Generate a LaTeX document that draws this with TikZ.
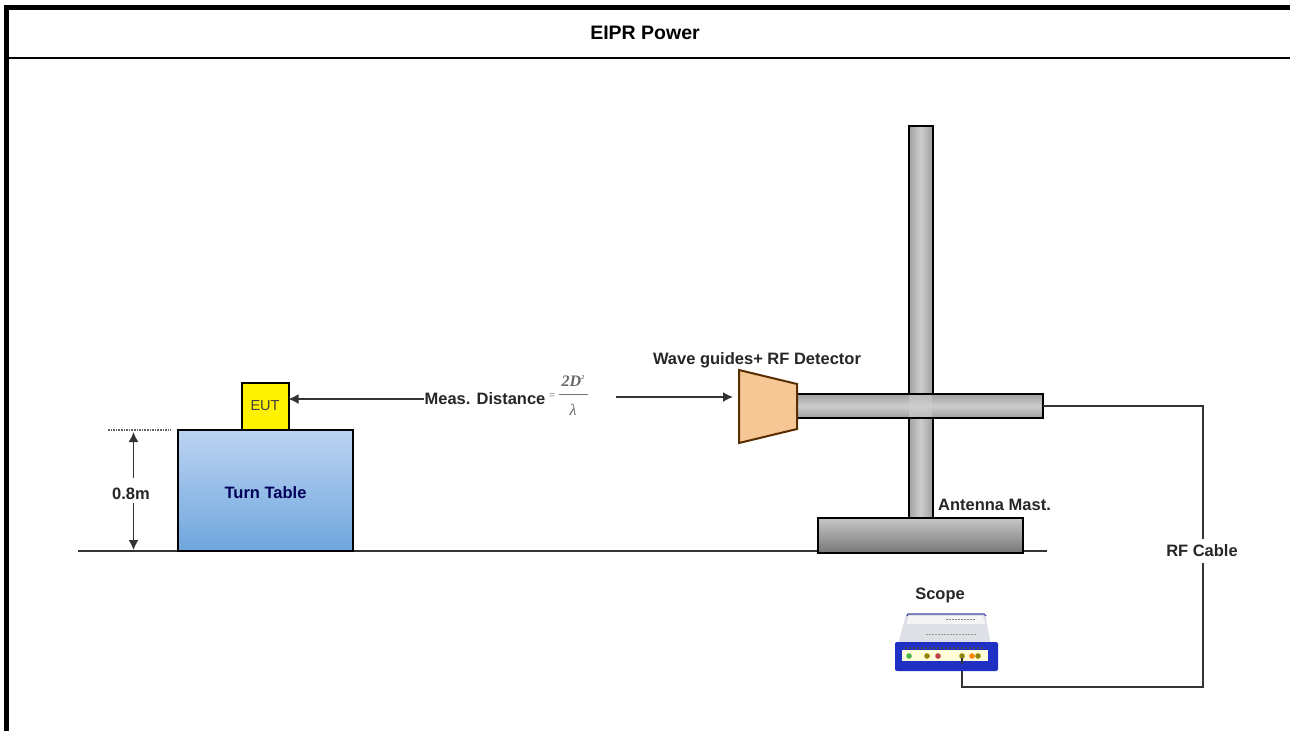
\documentclass[tikz,border=0pt]{standalone}
\usepackage{fontspec}
\setmainfont{Liberation Sans}
\newfontfamily\serifmath{Liberation Serif}
\usetikzlibrary{arrows.meta}
\definecolor{gdark}{HTML}{A0A0A0}
\definecolor{glight}{HTML}{CDCDCD}
\definecolor{scopeblue}{HTML}{1F30C4}
\definecolor{scopegrey}{HTML}{DDE1E6}
\definecolor{tabletop}{HTML}{BCD3F2}
\definecolor{tablebot}{HTML}{6FA6DD}
\definecolor{horn}{HTML}{F6C794}
\tikzset{
 x=1pt,y=-1pt,
 lbl/.style={font=\bfseries\fontsize{16.5}{18}\selectfont,text=black!85,inner sep=0pt},
 solidbox/.style={draw=black,line width=2pt,outer sep=0pt,inner sep=0pt},
 metalh/.style={solidbox,top color=gdark,bottom color=gdark,middle color=glight},
 metalv/.style={solidbox,left color=gdark,right color=gdark,middle color=glight},
 wire/.style={draw=black!80,line width=2pt},
 thin wire/.style={draw=black!80,line width=1.5pt},
 arr/.style={thin wire,-{Latex[length=10pt,width=10pt]}},
 frame/.style={draw=black,line width=5pt},
}
\begin{document}
\begin{tikzpicture}
\useasboundingbox (0,0) rectangle (1290,731);
% frame
\coordinate (fbl) at (6.5,731);
\coordinate (ftl) at (6.5,7.5);
\coordinate (ftr) at (1290,7.5);
\coordinate (hl) at (9,58);
\coordinate (hr) at (1290,58);
\draw[frame,line cap=butt] (fbl) -- (ftl) -- (ftr);
\draw[draw=black,line width=2pt] (hl) -- (hr);
\node[inner sep=0pt,font=\bfseries\fontsize{19.5}{22}\selectfont] (title) at (645,33) {EIPR Power};
% ground
\coordinate (g1) at (78,551);
\coordinate (g2) at (1047,551);
\draw[wire] (g1) -- (g2);
% turn table
\node[solidbox,minimum width=175pt,minimum height=121pt,top color=tabletop,bottom color=tablebot] (table) at (265,490.5) {};
\node[inner sep=0pt,font=\bfseries\fontsize{16.5}{18}\selectfont,text=blue!35!black] (tt) at (265.5,493) {Turn Table};
% EUT
\node[solidbox,fill=yellow,minimum width=47pt,minimum height=47pt,font=\fontsize{14.5}{16}\selectfont,text=black!75] (eut) at (265,406) {EUT};
% dotted level
\coordinate (d1) at (108,430);
\coordinate (d2) at (171,430);
\draw[black!60,line width=1.6pt,densely dotted] (d1) -- (d2);
% 0.8m
\node[lbl] (h) at (131,494) {0.8m};
\coordinate (ht) at (133.5,432);
\coordinate (hb) at (133.5,550);
\draw[arr] (h.north -| ht) ++(0,-10) -- (ht);
\draw[arr] (h.south -| hb) ++(0,3) -- (hb);
% distance
\node[lbl] (meas) at (485,399) {Meas. Distance};
\node[inner sep=0pt,text=black!50,font=\fontsize{10}{10}\selectfont] (eq) at (552,396) {=};
\coordinate (fracL) at (559,394);
\coordinate (fracR) at (588,394);
\draw[black!55,line width=.8pt] (fracL) -- (fracR);
\node[inner sep=0pt,text=black!60,font=\serifmath\bfseries\itshape\fontsize{16}{18}\selectfont] (num) at (573,381) {2D\raisebox{7pt}{\fontsize{6}{7}\selectfont 2}};
\node[inner sep=0pt,text=black!60,font=\serifmath\itshape\fontsize{16}{18}\selectfont] (den) at (573,410) {λ};
\coordinate (a1) at (616,397);
\draw[arr] (meas.west) -- (meas.west -| eut.east);
% horn
\coordinate (h1) at (739,370);
\coordinate (h2) at (797,384);
\coordinate (h3) at (797,429);
\coordinate (h4) at (739,443);
\coordinate (hornin) at (733,397);
\draw[arr] (a1) -- (hornin);
% mast
\node[metalv,minimum width=24pt,minimum height=392pt] (mast) at (920.5,322) {};
\node[metalh,minimum width=246pt,minimum height=24pt] (arm) at (920,406) {};
\fill[glight,opacity=.6] (909,395) rectangle (932,417);
\node[solidbox,top color=glight!90!gdark,bottom color=gdark!75!black,minimum width=205pt,minimum height=35pt] (base) at (920,535) {};
\draw[solidbox,fill=horn,draw=black!65!orange] (h1) -- (h2) -- (h3) -- (h4) -- cycle;
\node[lbl] (wg) at (757,360) {Wave guides+ RF Detector};
\node[lbl] (am) at (994.5,505) {Antenna Mast.};
% cable
\coordinate (c1) at (1203,406);
\coordinate (c2) at (1203,687);
\coordinate (c3) at (962,687);
\coordinate (c4) at (962,664);
\draw[wire,line join=miter] (arm.east) -- (c1) -- (c2) -- (c3) -- (c4);
\node[lbl,fill=white,inner ysep=6pt,inner xsep=2pt] (rf) at (1202,551) {RF Cable};
% scope
\node[lbl] (sc) at (940,595) {Scope};
\fill[scopegrey] (906,614) -- (985,614) -- (991,645) -- (898,645) -- cycle;
\fill[white!92!gray] (908,616) -- (983,616) -- (985,624) -- (907,624) -- cycle;
\draw[blue!50!black!70,line width=1.3pt] (907,616) -- (908,614) -- (984,614) -- (986,616);
\draw[line width=1pt,black!50,dash pattern=on 1.5pt off 1.5pt] (946,619) -- (976,619);
\draw[line width=1pt,black!40,dash pattern=on 1.5pt off 1.5pt] (926,634) -- (976,634);
\fill[scopeblue,rounded corners=2pt] (895,642) rectangle (998,671);
\fill[white!85!yellow] (902,650) rectangle (988,661);
\draw[line width=1.5pt,black!70,dash pattern=on 2pt off 2pt] (905,648) -- (985,648);
\foreach \px/\pc in {909/green!40!gray,927/olive,938/red!50!gray,962/olive,972/orange,978/olive}{
  \fill[\pc] (\px,656) circle (2.8pt);
}
\draw[wire] (c4) -- (962,658);
\end{tikzpicture}
\end{document}
